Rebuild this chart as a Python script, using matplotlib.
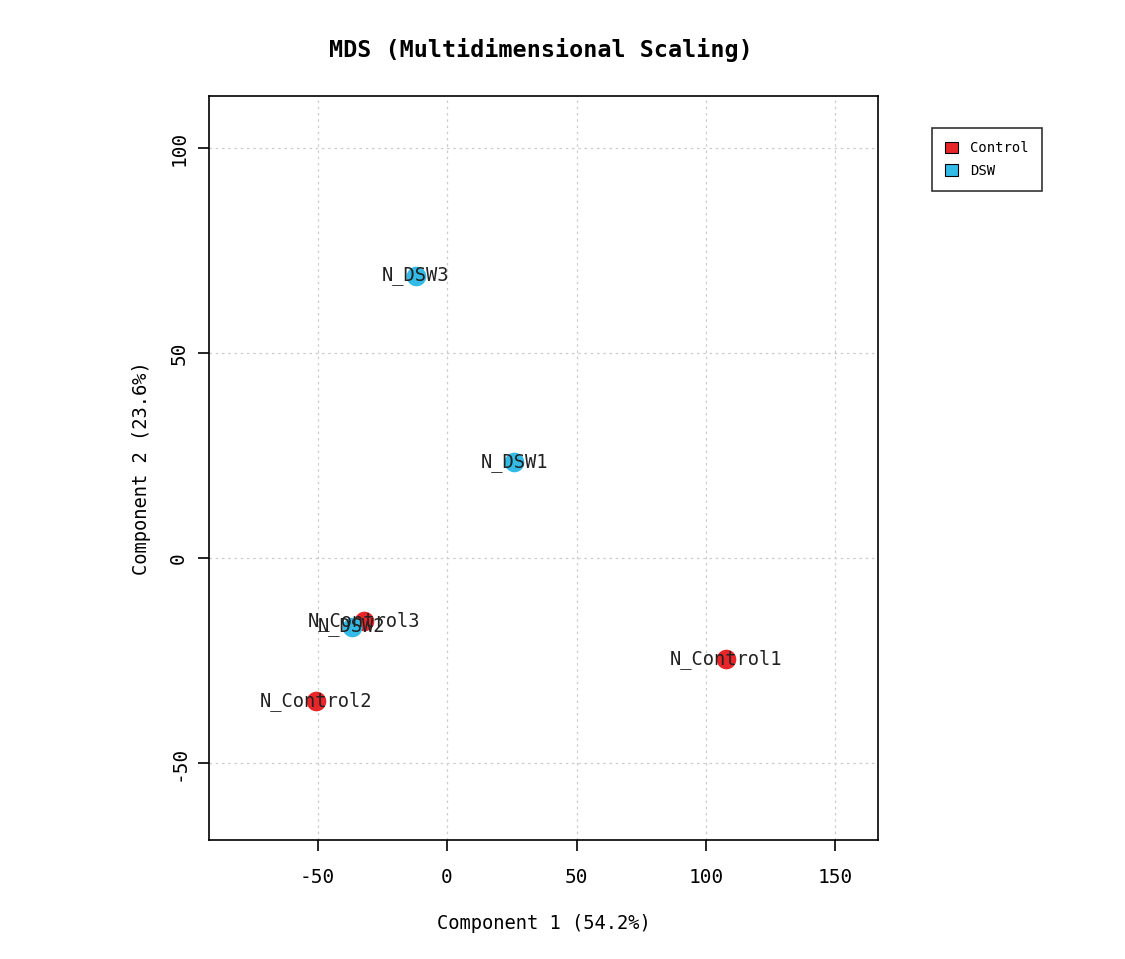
import matplotlib
matplotlib.use("Agg")
import matplotlib.pyplot as plt
from matplotlib.patches import Patch

samples = ["N_Control1", "N_Control2", "N_Control3", "N_DSW1", "N_DSW2", "N_DSW3"]
groups = ["Control", "Control", "Control", "DSW", "DSW", "DSW"]
comp1 = [107.7, -50.6, -32.0, 25.9, -36.7, -12.0]
comp2 = [-24.6, -34.9, -15.4, 23.4, -16.8, 68.8]
group_names = ["Control", "DSW"]
group_colors = {"Control": "#E8262A", "DSW": "#33BBE8"}
xticks = [-50, 0, 50, 100, 150]
yticks = [-50, 0, 50, 100]

plt.rcParams['font.family'] = ['DejaVu Sans Mono']

fig = plt.figure(figsize=(11.25, 9.59), dpi=100)
ax = fig.add_axes([0.1858, 0.1241, 0.5946, 0.7758])

for s, g, x, y in zip(samples, groups, comp1, comp2):
    ax.scatter(x, y, s=200, color=group_colors[g], zorder=3, linewidths=0)
for s, x, y in zip(samples, comp1, comp2):
    ax.text(x, y, s, ha='center', va='center', fontsize=13.5, color='#222222', zorder=4)

ax.set_xlim(-91.9, 166.4)
ax.set_ylim(-68.8, 112.7)
ax.set_xticks(xticks)
ax.set_yticks(yticks)
ax.set_xticklabels([str(v) for v in xticks], fontsize=14)
ax.set_yticklabels([str(v) for v in yticks], fontsize=14, rotation=90, va='center')
ax.tick_params(axis='x', length=8, width=1.2, pad=12.5)
ax.tick_params(axis='y', length=8, width=1.2, pad=7)
ax.grid(True, linestyle=(0, (2, 3)), color='#CCCCCC', linewidth=0.9, zorder=0)
for sp in ax.spines.values():
    sp.set_linewidth(1.2)

ax.set_xlabel("Component 1 (54.2%)", fontsize=13.5, labelpad=19)
ax.set_ylabel("Component 2 (23.6%)", fontsize=13.5, labelpad=13)
fig.text(0.481, 0.948, "MDS (Multidimensional Scaling)", ha='center', va='center',
         fontsize=16.8, fontweight='bold')

handles = [Patch(facecolor=group_colors[g], edgecolor='black', linewidth=0.8) for g in group_names]
leg = fig.legend(handles, group_names, loc='upper left', bbox_to_anchor=(0.8284, 0.8665),
                 borderaxespad=0, fontsize=10, frameon=True, fancybox=False, edgecolor='black',
                 handlelength=0.9, handleheight=0.9, borderpad=0.95, labelspacing=0.6,
                 handletextpad=0.9)
leg.get_frame().set_linewidth(1.2)

fig.savefig("out.png", dpi=100)
